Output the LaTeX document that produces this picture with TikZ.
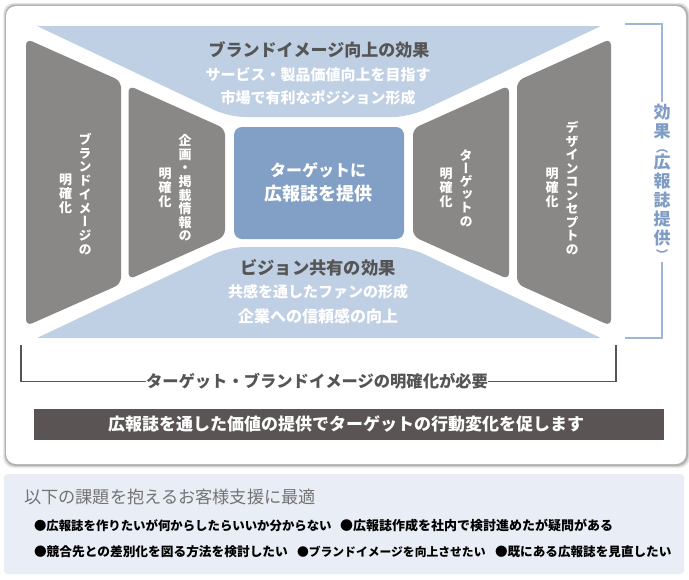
\documentclass[tikz,border=0pt]{standalone}
\usepackage{fontspec}
\setmainfont{Noto Sans CJK JP}
\newfontfamily\vfont[RawFeature={+vert}]{Noto Sans CJK JP}
\newcommand\fs[1]{\fontsize{\dimexpr #1pt*3/4\relax}{\dimexpr #1pt*3/4\relax}\selectfont}
\newcommand\vf[2][13]{\vfont\bfseries\fontsize{\dimexpr #1pt*3/4\relax}{\dimexpr #2pt*3/4\relax}\selectfont}
\definecolor{lightblue}{HTML}{BFCFE4}
\definecolor{midblue}{HTML}{829FC6}
\definecolor{linkblue}{HTML}{A0B6D6}
\definecolor{effectblue}{HTML}{7F9DC4}
\definecolor{slab}{HTML}{8A8886}
\definecolor{darkbar}{HTML}{5A5554}
\definecolor{titlegray}{HTML}{555555}
\definecolor{palebg}{HTML}{E9EEF6}
\tikzset{
  x=0.75pt,y=-0.75pt,
  lbl/.style={inner sep=0pt,outer sep=0pt,align=center},
  head/.style={lbl,text=titlegray,font=\bfseries},
  sub/.style={lbl,text=white,font=\bfseries},
  vlab/.style={lbl,text=white},
  bracketb/.style={draw=linkblue,line width=0.9pt},
  bracketg/.style={draw=titlegray,line width=0.8pt},
  prob/.style={inner sep=0pt,outer sep=0pt,anchor=west,text=black,font=\bfseries}
}
\begin{document}
\begin{tikzpicture}
\useasboundingbox (0,0) rectangle (689,579);
% outer panel with soft shadow
\fill[black!8,rounded corners=8pt] (3,3) rectangle (690,468);
\fill[black!16,rounded corners=8pt] (4,3.5) rectangle (689,467);
\fill[black!30,rounded corners=8pt] (5,4.5) rectangle (688,466);
\fill[white,rounded corners=7.5pt] (6,6) rectangle (686,464);
% top and bottom effect bands
\fill[lightblue] (37,26) [rounded corners=1pt] -- (37,26) -- (601,26) [rounded corners=12pt] -- (409,117) -- (229,117) [rounded corners=1pt] -- cycle;
\fill[lightblue] (37,338) [rounded corners=1pt] -- (37,338) -- (601,338) [rounded corners=12pt] -- (409,247) -- (229,247) [rounded corners=1pt] -- cycle;
% slabs
\fill[slab,rounded corners=5pt] (26,38.7) -- (121,81) -- (121,284) -- (26,326) -- cycle;
\fill[slab,rounded corners=5pt] (128.5,85.5) -- (225,128.6) -- (225,236.4) -- (128.5,279.5) -- cycle;
\fill[slab,rounded corners=5pt] (413,128.6) -- (509,85.5) -- (509,279.5) -- (413,236.4) -- cycle;
\fill[slab,rounded corners=5pt] (517,81) -- (611,38.7) -- (611,326) -- (517,284) -- cycle;
% centre
\node[lbl,minimum width=127.5pt,minimum height=84pt,fill=midblue,rounded corners=6pt,text=white,font=\bfseries] (centre) at (319,183) {};
\node[sub] (c1) at (318,170) {\fs{16}ターゲットに};
\node[sub] (c2) at (318,194) {\fs{18}広報誌を提供};
% band labels
\node[head] (t0) at (319,50) {\fs{17}ブランドイメージ向上の効果};
\node[sub] (t1) at (318,75) {\fs{15}サービス・製品価値向上を目指す};
\node[sub] (t2) at (318,98) {\fs{15}市場で有利なポジション形成};
\node[head] (b0) at (318,268) {\fs{17.3}ビジョン共有の効果};
\node[sub] (b1) at (318,292) {\fs{15}共感を通したファンの形成};
\node[sub] (b2) at (318,316) {\fs{16}企業への信頼感の向上};
% vertical labels
\node[vlab,font=\vf{13.7}] (v1) at (85,194) {ブ\\ラ\\ン\\ド\\イ\\メ\\ー\\ジ\\の};
\node[vlab,font=\vf{14}] (v1b) at (65.5,194) {明\\確\\化};
\node[vlab,font=\vf{13.6}] (v2) at (185,188) {企\\画\\・\\掲\\載\\情\\報\\の};
\node[vlab,font=\vf{14}] (v2b) at (165,188) {明\\確\\化};
\node[vlab,font=\vf{13.2}] (v3) at (466,188) {タ\\ー\\ゲ\\ッ\\ト\\の};
\node[vlab,font=\vf{14}] (v3b) at (446,188) {明\\確\\化};
\node[vlab,font=\vf{13.5}] (v4) at (572,188) {デ\\ザ\\イ\\ン\\コ\\ン\\セ\\プ\\ト\\の};
\node[vlab,font=\vf{14}] (v4b) at (552,188) {明\\確\\化};
% right bracket
\node[lbl,text=effectblue,font={\vf[17]{19}}] (eff) at (662,182) {効\\果\\[-3pt]{\fs{12}（}\\[-2.25pt]広\\報\\誌\\提\\供\\[-3pt]{\fs{12}）}};
\coordinate (ra) at (625,24);
\coordinate (rb) at (662,24);
\coordinate (rc) at (662,338);
\coordinate (rd) at (625,338);
\draw[bracketb] (ra) -- (rb) -- ([yshift=2pt]eff.north -| rb);
\draw[bracketb] ([yshift=-2pt]eff.south -| rc) -- (rc) -- (rd);
% lower bracket
\node[head] (need) at (317,381.5) {\fs{16.3}ターゲット・ブランドイメージの明確化が必要};
\coordinate (la) at (21,345);
\coordinate (lb) at (21,381.5);
\coordinate (lc) at (616,381.5);
\coordinate (ld) at (616,345);
\draw[bracketg] (la) -- (lb) -- (need.west);
\draw[bracketg] (need.east) -- (lc) -- (ld);
% dark bar
\fill[darkbar] (34,409) rectangle (664,440);
\node[sub] (bar) at (346,424) {\fs{17}広報誌を通した価値の提供でターゲットの行動変化を促します};
% lower panel
\fill[palebg,rounded corners=2.5pt] (4,474) rectangle (684,574);
\node[lbl,anchor=west,text=black!55] (ptitle) at (24,497) {\fs{17.2}以下の課題を抱えるお客様支援に最適};
\node[prob] (p1) at (34,526) {\fs{12.4}●広報誌を作りたいが何からしたらいいか分からない};
\node[prob] (p2) at (340,526) {\fs{13}●広報誌作成を社内で検討進めたが疑問がある};
\node[prob] (p3) at (34,552) {\fs{12.7}●競合先との差別化を図る方法を検討したい};
\node[prob] (p4) at (297,552) {\fs{11.8}●ブランドイメージを向上させたい};
\node[prob] (p5) at (495,552) {\fs{12.6}●既にある広報誌を見直したい};
\end{tikzpicture}
\end{document}
